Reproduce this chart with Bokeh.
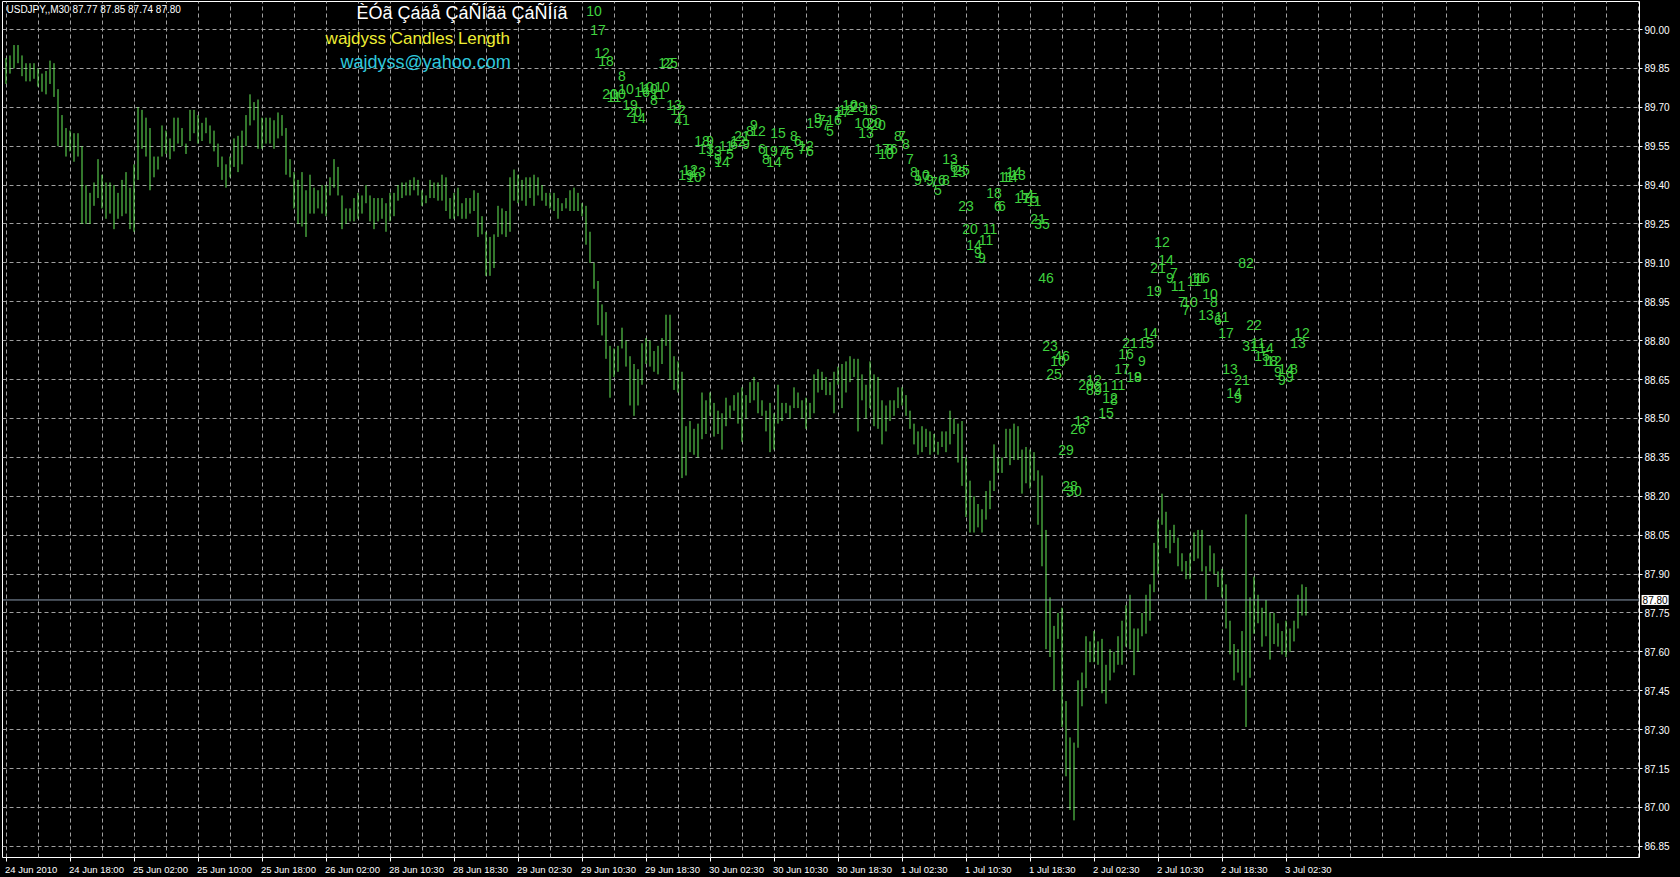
from bokeh.plotting import figure
from bokeh.models import Range1d, FixedTicker, Span, Label, NumeralTickFormatter, ColumnDataSource
from bokeh.embed import file_html
from bokeh.resources import INLINE
from bokeh.core.properties import value

# ---- data (USDJPY M30, one entry per bar) ----
highs = [
    89.89, 89.90, 89.94, 89.94, 89.90, 89.87, 89.87, 89.87, 89.85, 89.83,
    89.84, 89.88, 89.87, 89.77, 89.67, 89.62, 89.61, 89.60, 89.60, 89.55,
    89.40, 89.37, 89.41, 89.50, 89.44, 89.41, 89.41, 89.40, 89.37, 89.42,
    89.45, 89.39, 89.48, 89.70, 89.69, 89.66, 89.62, 89.51, 89.51, 89.63,
    89.61, 89.58, 89.66, 89.66, 89.62, 89.56, 89.69, 89.69, 89.67, 89.64,
    89.66, 89.63, 89.61, 89.56, 89.51, 89.48, 89.51, 89.58, 89.59, 89.61,
    89.67, 89.75, 89.72, 89.73, 89.66, 89.66, 89.66, 89.65, 89.68, 89.67,
    89.62, 89.50, 89.45, 89.42, 89.45, 89.38, 89.44, 89.39, 89.38, 89.40,
    89.40, 89.43, 89.50, 89.47, 89.36, 89.31, 89.31, 89.35, 89.37, 89.36,
    89.40, 89.36, 89.35, 89.35, 89.35, 89.33, 89.37, 89.37, 89.40, 89.41,
    89.41, 89.42, 89.43, 89.42, 89.38, 89.36, 89.42, 89.41, 89.41, 89.44,
    89.43, 89.35, 89.37, 89.39, 89.33, 89.35, 89.35, 89.38, 89.37, 89.28,
    89.22, 89.20, 89.21, 89.32, 89.31, 89.30, 89.43, 89.46, 89.44, 89.42,
    89.43, 89.43, 89.44, 89.43, 89.40, 89.37, 89.37, 89.37, 89.35, 89.33,
    89.35, 89.38, 89.39, 89.37, 89.33, 89.32, 89.22, 89.10, 89.03, 88.94,
    88.91, 88.78, 88.77, 88.78, 88.85, 88.80, 88.74, 88.71, 88.69, 88.79,
    88.81, 88.80, 88.76, 88.78, 88.81, 88.90, 88.90, 88.74, 88.72, 88.68,
    88.47, 88.49, 88.46, 88.48, 88.60, 88.57, 88.60, 88.56, 88.53, 88.52,
    88.58, 88.55, 88.59, 88.60, 88.62, 88.59, 88.64, 88.66, 88.64, 88.57,
    88.53, 88.56, 88.52, 88.63, 88.56, 88.56, 88.55, 88.62, 88.60, 88.57,
    88.58, 88.56, 88.67, 88.69, 88.68, 88.66, 88.64, 88.68, 88.70, 88.71,
    88.72, 88.74, 88.73, 88.73, 88.67, 88.63, 88.72, 88.67, 88.66, 88.57,
    88.55, 88.57, 88.57, 88.62, 88.62, 88.59, 88.53, 88.48, 88.45, 88.47,
    88.46, 88.45, 88.44, 88.41, 88.45, 88.45, 88.53, 88.50, 88.48, 88.49,
    88.35, 88.26, 88.20, 88.17, 88.15, 88.22, 88.26, 88.40, 88.35, 88.35,
    88.46, 88.46, 88.48, 88.47, 88.38, 88.39, 88.38, 88.37, 88.30, 88.28,
    88.07, 87.81, 87.70, 87.75, 87.77, 87.41, 87.27, 87.25, 87.49, 87.52,
    87.66, 87.64, 87.68, 87.64, 87.65, 87.55, 87.61, 87.60, 87.66, 87.72,
    87.78, 87.82, 87.69, 87.69, 87.75, 87.82, 87.86, 88.02, 88.11, 88.21,
    88.14, 88.07, 88.09, 88.04, 87.98, 87.95, 87.98, 88.06, 88.07, 88.07,
    87.93, 88.01, 87.98, 87.91, 87.92, 87.86, 87.72, 87.63, 87.61, 87.68,
    88.13, 87.81, 87.89, 87.82, 87.77, 87.80, 87.75, 87.75, 87.71, 87.68,
    87.72, 87.69, 87.72, 87.82, 87.86, 87.85,
]
lows = [
    89.79, 89.83, 89.85, 89.87, 89.82, 89.80, 89.80, 89.81, 89.78, 89.76,
    89.75, 89.79, 89.74, 89.55, 89.55, 89.51, 89.53, 89.49, 89.51, 89.25,
    89.25, 89.25, 89.32, 89.35, 89.31, 89.27, 89.29, 89.23, 89.27, 89.28,
    89.29, 89.23, 89.22, 89.42, 89.54, 89.51, 89.38, 89.43, 89.46, 89.51,
    89.52, 89.50, 89.53, 89.56, 89.55, 89.52, 89.57, 89.60, 89.56, 89.57,
    89.60, 89.56, 89.53, 89.47, 89.42, 89.39, 89.43, 89.47, 89.45, 89.48,
    89.55, 89.63, 89.65, 89.54, 89.54, 89.56, 89.56, 89.54, 89.58, 89.59,
    89.44, 89.43, 89.31, 89.25, 89.24, 89.20, 89.29, 89.29, 89.31, 89.29,
    89.28, 89.36, 89.39, 89.36, 89.23, 89.25, 89.26, 89.26, 89.27, 89.29,
    89.33, 89.26, 89.23, 89.26, 89.27, 89.22, 89.26, 89.28, 89.34, 89.35,
    89.36, 89.36, 89.38, 89.36, 89.32, 89.33, 89.35, 89.35, 89.34, 89.34,
    89.30, 89.27, 89.27, 89.28, 89.27, 89.27, 89.29, 89.30, 89.20, 89.21,
    89.05, 89.05, 89.08, 89.20, 89.21, 89.20, 89.22, 89.34, 89.33, 89.34,
    89.32, 89.35, 89.32, 89.36, 89.34, 89.32, 89.31, 89.30, 89.27, 89.30,
    89.31, 89.30, 89.30, 89.30, 89.28, 89.17, 89.10, 89.00, 88.86, 88.82,
    88.73, 88.58, 88.66, 88.68, 88.77, 88.70, 88.55, 88.51, 88.55, 88.63,
    88.71, 88.70, 88.68, 88.67, 88.71, 88.78, 88.65, 88.61, 88.60, 88.27,
    88.28, 88.37, 88.36, 88.35, 88.42, 88.44, 88.51, 88.43, 88.44, 88.38,
    88.47, 88.50, 88.53, 88.48, 88.41, 88.50, 88.56, 88.57, 88.52, 88.51,
    88.45, 88.37, 88.38, 88.48, 88.49, 88.52, 88.50, 88.54, 88.54, 88.50,
    88.46, 88.50, 88.52, 88.60, 88.61, 88.59, 88.59, 88.52, 88.63, 88.54,
    88.60, 88.64, 88.66, 88.45, 88.57, 88.50, 88.54, 88.47, 88.46, 88.40,
    88.45, 88.49, 88.51, 88.54, 88.55, 88.51, 88.46, 88.40, 88.36, 88.37,
    88.39, 88.36, 88.37, 88.36, 88.39, 88.37, 88.40, 88.44, 88.33, 88.24,
    88.12, 88.06, 88.06, 88.08, 88.06, 88.11, 88.15, 88.22, 88.29, 88.29,
    88.35, 88.32, 88.34, 88.34, 88.21, 88.25, 88.23, 88.26, 88.09, 87.93,
    87.61, 87.58, 87.45, 87.65, 87.31, 87.12, 86.99, 86.95, 87.23, 87.39,
    87.46, 87.56, 87.56, 87.55, 87.44, 87.40, 87.49, 87.52, 87.55, 87.55,
    87.62, 87.61, 87.51, 87.60, 87.66, 87.67, 87.72, 87.83, 87.90, 88.09,
    88.00, 87.98, 88.02, 87.93, 87.91, 87.88, 87.88, 87.95, 87.96, 87.91,
    87.80, 87.91, 87.90, 87.85, 87.81, 87.69, 87.59, 87.49, 87.52, 87.47,
    87.31, 87.50, 87.67, 87.71, 87.62, 87.66, 87.57, 87.63, 87.62, 87.59,
    87.58, 87.60, 87.64, 87.69, 87.74, 87.74,
]
time_labels = [
    "24 Jun 2010", "24 Jun 18:00", "25 Jun 02:00", "25 Jun 10:00", "25 Jun 18:00",
    "26 Jun 02:00", "28 Jun 10:30", "28 Jun 18:30", "29 Jun 02:30", "29 Jun 10:30",
    "29 Jun 18:30", "30 Jun 02:30", "30 Jun 10:30", "30 Jun 18:30", "1 Jul 02:30",
    "1 Jul 10:30", "1 Jul 18:30", "2 Jul 02:30", "2 Jul 10:30", "2 Jul 18:30",
    "3 Jul 02:30",
]
time_label_bars = [0, 16, 32, 48, 64, 80, 96, 112, 128, 144, 160, 176, 192, 208,
                   224, 240, 256, 272, 288, 304, 320]
price_ticks = [86.85, 87.00, 87.15, 87.30, 87.45, 87.60, 87.75, 87.90, 88.05, 88.20,
               88.35, 88.50, 88.65, 88.80, 88.95, 89.10, 89.25, 89.40, 89.55, 89.70,
               89.85, 90.00]
current_price = 87.80
labelled_first_bar = 147
labelled_last_bar = 324
label_offset = 0.97
header_text = "USDJPY,,M30  87.77 87.85 87.74 87.80"
title_lines = ["ÈÓã Çááå ÇáÑÍãä ÇáÑÍíã", "wajdyss Candles Length", "wajdyss@yahoo.com"]

FONT = "Liberation Sans"
BAR_COLOR = "#66ee58"
LABEL_COLOR = "#3fd23f"

bars = list(range(len(highs)))
src = ColumnDataSource(dict(x=bars, high=highs, low=lows))

lab_x = bars[labelled_first_bar:labelled_last_bar + 1]
lab_y = [highs[i] + label_offset for i in lab_x]
lab_t = [str(int(round((highs[i] - lows[i]) * 100))) for i in lab_x]
lab_src = ColumnDataSource(dict(x=lab_x, y=lab_y, t=lab_t))

p = figure(frame_width=1637, frame_height=856, output_backend="svg", toolbar_location=None,
           x_range=Range1d(-0.875, 408.375), y_range=Range1d(86.8068, 90.108),
           y_axis_location="right", min_border_left=2, min_border_right=41,
           min_border_top=1, min_border_bottom=20)
p.background_fill_color = "black"
p.border_fill_color = "black"
p.outline_line_color = "white"
p.outline_line_width = 1

# grid
p.xgrid.ticker = FixedTicker(ticks=list(range(0, 409, 8)))
p.ygrid.ticker = FixedTicker(ticks=price_ticks)
for g in (p.xgrid[0], p.ygrid[0]):
    g.grid_line_color = "#a0a0a0"
    g.grid_line_dash = "4 3"
    g.grid_line_width = 1

# price axis (right)
ya = p.yaxis[0]
ya.ticker = FixedTicker(ticks=price_ticks, minor_ticks=[])
ya.formatter = NumeralTickFormatter(format="0.00")
ya.axis_line_color = None
ya.major_tick_out = 3
ya.major_tick_in = 0
ya.major_tick_line_color = "white"
ya.minor_tick_line_color = None
ya.major_label_standoff = 2
ya.major_label_text_color = "white"
ya.major_label_text_font = FONT
ya.major_label_text_font_size = "10px"

# time axis (below): labels start at their bar, tick marks at the bar
W = {"0": .556, "1": .556, "2": .556, "3": .556, "4": .556, "5": .556, "6": .556,
     "7": .556, "8": .556, "9": .556, " ": .278, ":": .278, "J": .5, "u": .556,
     "n": .556, "l": .222}
TFS = 9.5
label_ticks = [round(b + (sum(W.get(c, .556) for c in s) * TFS / 2 - 1) / 4, 4) + 0.0001
               for b, s in zip(time_label_bars, time_labels)]
xa = p.xaxis[0]
xa.ticker = FixedTicker(ticks=label_ticks, minor_ticks=time_label_bars)
xa.major_label_overrides = {t: s for t, s in zip(label_ticks, time_labels)}
xa.axis_line_color = None
xa.major_tick_out = 0
xa.major_tick_in = 0
xa.major_tick_line_color = None
xa.minor_tick_out = 4
xa.minor_tick_in = 0
xa.minor_tick_line_color = "white"
xa.major_label_standoff = 2
xa.major_label_text_color = "white"
xa.major_label_text_font = FONT
xa.major_label_text_font_size = f"{TFS}px"

# bid line
p.add_layout(Span(location=current_price, dimension="width", line_color="#8a9aae", line_width=1))

# bars
p.segment(x0="x", y0="low", x1="x", y1="high", source=src, line_color=BAR_COLOR, line_width=1)

# candle length labels
p.text(x="x", y="y", text="t", source=lab_src, text_color=LABEL_COLOR,
       text_font=value(FONT), text_font_size="14px", text_align="center",
       text_baseline="middle")

# current price box on the price scale (side panel so it is not clipped to the frame)
p.add_layout(Label(x=408.9, y=current_price, text=f"{current_price:.2f}", text_font=FONT,
                   text_font_size="10px", text_color="black", text_baseline="middle",
                   background_fill_color="white", padding=1), "right")

# header and titles
p.add_layout(Label(x=0.125, y=90.078, text=header_text, text_font=FONT, text_font_size="10px",
                   text_color="white", text_baseline="middle"))
p.add_layout(Label(x=87.6, y=90.062, text=title_lines[0], text_font=FONT, text_font_size="18px",
                   text_color="white", text_baseline="middle"))
p.add_layout(Label(x=79.9, y=89.967, text=title_lines[1], text_font=FONT, text_font_size="17px",
                   text_color="#eeee33", text_baseline="middle"))
p.add_layout(Label(x=83.6, y=89.873, text=title_lines[2], text_font=FONT, text_font_size="18px",
                   text_color="#2ec8dc", text_baseline="middle"))

html = file_html(p, INLINE)
html = html.replace("<head>", "<head><style>html,body{margin:0;padding:0;background:#000;overflow:hidden}</style>", 1)
open("out.html", "w").write(html)
